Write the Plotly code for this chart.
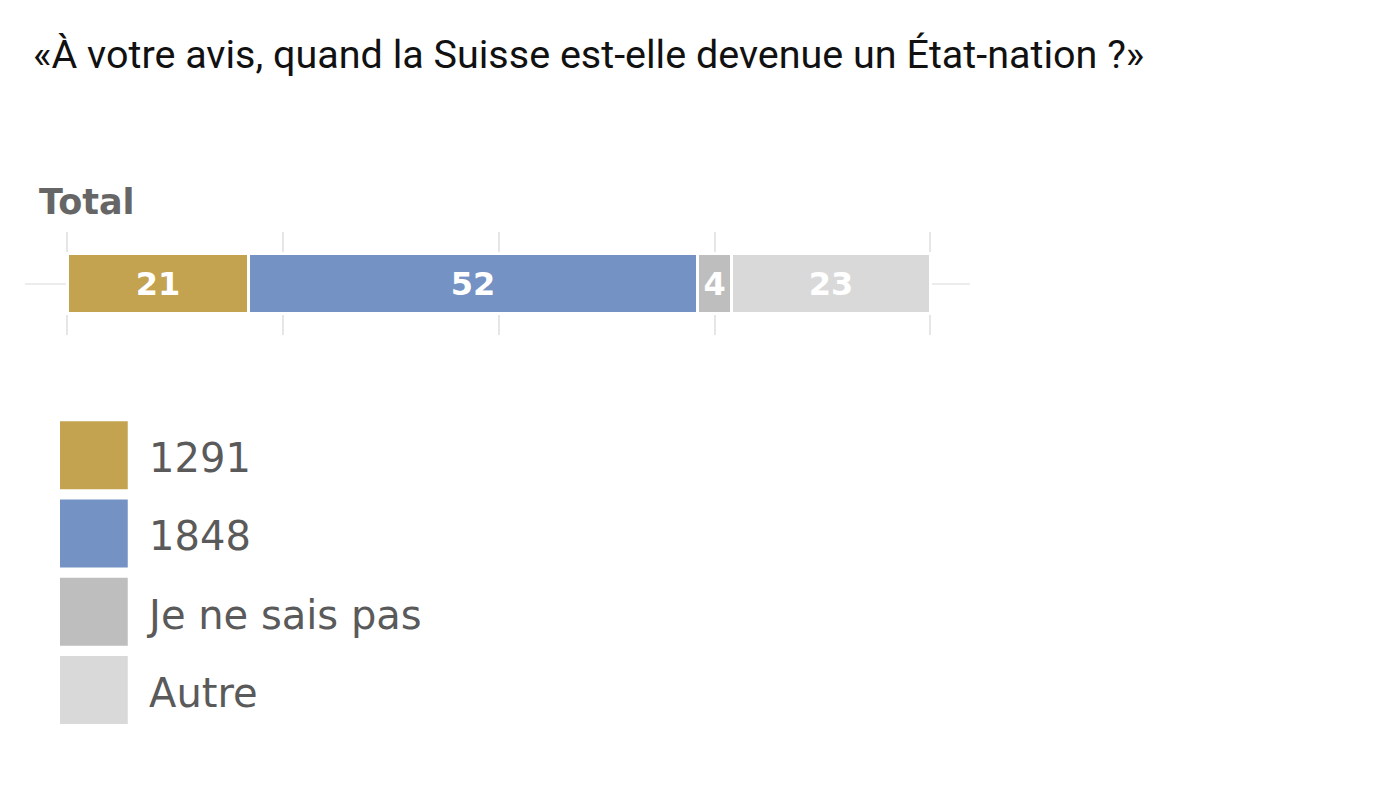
import plotly.graph_objects as go

question = "«À votre avis, quand la Suisse est-elle devenue un État-nation ?»"
group = ["Total"]
answers = ["1291", "1848", "Je ne sais pas", "Autre"]
shares = [21, 52, 4, 23]
colors = ["#C4A350", "#7492C4", "#BEBEBE", "#D9D9D9"]
x_ticks = [0, 25, 50, 75, 100]

# page has an 8px body margin, so the figure is a bit smaller than the window
PAD = 8
W, H = 1390 - 2 * PAD, 802 - 2 * PAD


def px(x):
    return (x - PAD) / W


def py(y):
    return 1 - (y - PAD) / H


fig = go.Figure()

# stacked bar
for ans, val, col in zip(answers, shares, colors):
    fig.add_trace(go.Bar(
        y=group, x=[val], name=ans, orientation="h",
        marker=dict(color=col, line=dict(color="white", width=3)),
        text=[val], textposition="inside", insidetextanchor="middle",
        textfont=dict(family="DejaVu Sans", size=32, color="white", weight="bold"),
        constraintext="none", showlegend=False, hoverinfo="x+name",
        xaxis="x", yaxis="y",
    ))

# legend drawn as big square markers + labels (labels sit a bit lower)
fig.add_trace(go.Scatter(
    x=[0] * len(answers), y=answers, mode="markers",
    marker=dict(symbol="square", size=68, color=colors, line=dict(width=0)),
    showlegend=False, hoverinfo="skip",
    xaxis="x2", yaxis="y2",
))
fig.add_trace(go.Scatter(
    x=[0.82] * len(answers), y=answers, mode="text",
    text=answers, textposition="middle right",
    textfont=dict(family="DejaVu Sans", size=40, color="#5a5a5a"),
    showlegend=False, hoverinfo="skip",
    xaxis="x2", yaxis="y3",
))

for g in group:
    fig.add_annotation(
        text="<b>%s</b>" % g, xref="paper", yref="paper",
        x=px(37), y=py(202), xanchor="left", yanchor="middle",
        showarrow=False, font=dict(family="DejaVu Sans", size=35, color="#666666"),
    )

fig.update_layout(
    width=W, height=H,
    margin=dict(l=0, r=0, t=0, b=0),
    paper_bgcolor="white", plot_bgcolor="rgba(0,0,0,0)",
    barmode="stack", bargap=0.42,
    title=dict(text=question, x=px(33), xanchor="left", xref="paper",
               y=py(54), yanchor="middle", yref="container",
               font=dict(family="Roboto", size=39.5, color="#111111")),
    xaxis=dict(domain=[px(25), px(970)], range=[-4.9, 104.6],
               tickvals=x_ticks, showticklabels=False,
               showgrid=True, gridcolor="#e6e6e6", gridwidth=2, zeroline=False,
               showline=False),
    yaxis=dict(domain=[py(335), py(232)], type="category",
               range=[-0.5, 0.5], showticklabels=False,
               showgrid=True, gridcolor="#ececec", gridwidth=2, zeroline=False),
    xaxis2=dict(domain=[px(60), px(600)], range=[-0.5, 7.5], visible=False,
                anchor="y2"),
    yaxis2=dict(domain=[py(729), py(416)], type="category",
                categoryorder="array", categoryarray=answers[::-1],
                range=[-0.5, 3.5], visible=False, anchor="x2"),
    yaxis3=dict(domain=[py(736), py(423)], type="category",
                categoryorder="array", categoryarray=answers[::-1],
                range=[-0.5, 3.5], visible=False, anchor="x2"),
)

fig.write_html("out.html")
